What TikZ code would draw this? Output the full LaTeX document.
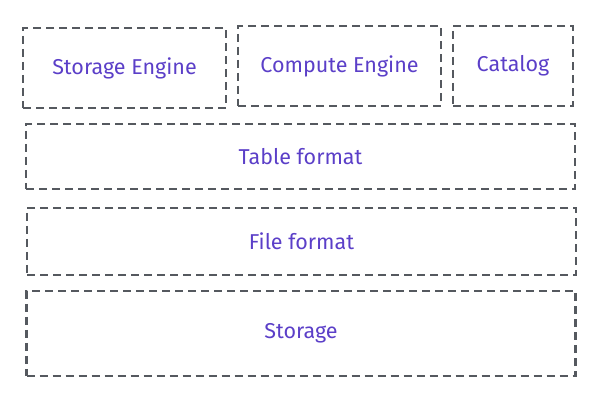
\documentclass[tikz,border=0pt]{standalone}
\usepackage{fontspec}
\setmainfont{Fira Sans}
\usetikzlibrary{positioning}
\definecolor{linegray}{HTML}{55595F}
\definecolor{labelpurple}{HTML}{5B3FC8}

\begin{document}
\begin{tikzpicture}[
    x=1pt, y=-1pt,
    layer/.style={rectangle, draw=linegray, line width=2.2pt, dash pattern=on 8pt off 5pt, text=labelpurple, font=\fontsize{21.5}{24}\selectfont, inner sep=0pt},
    wide/.style={layer, minimum width=549pt}
]

\useasboundingbox (0,0) rectangle (600,403);

% Top row
\node[layer, minimum width=203pt, minimum height=80pt] (storage_eng) at (124.5,68) {Storage Engine};
\node[layer, minimum width=203pt, minimum height=80pt] (compute_eng) at (339.5,66) {Compute Engine};
\node[layer, minimum width=120pt, minimum height=80pt] (catalog) at (513,66) {Catalog};

% Layers
\node[wide, minimum height=65pt] (table_fmt) at (300.5,156.5) {Table format};
\node[wide, minimum height=67pt] (file_fmt) at (301.5,241.5) {File format};
\node[wide, minimum height=85pt] (storage) at (301,333.5) {Storage};

\end{tikzpicture}
\end{document}
